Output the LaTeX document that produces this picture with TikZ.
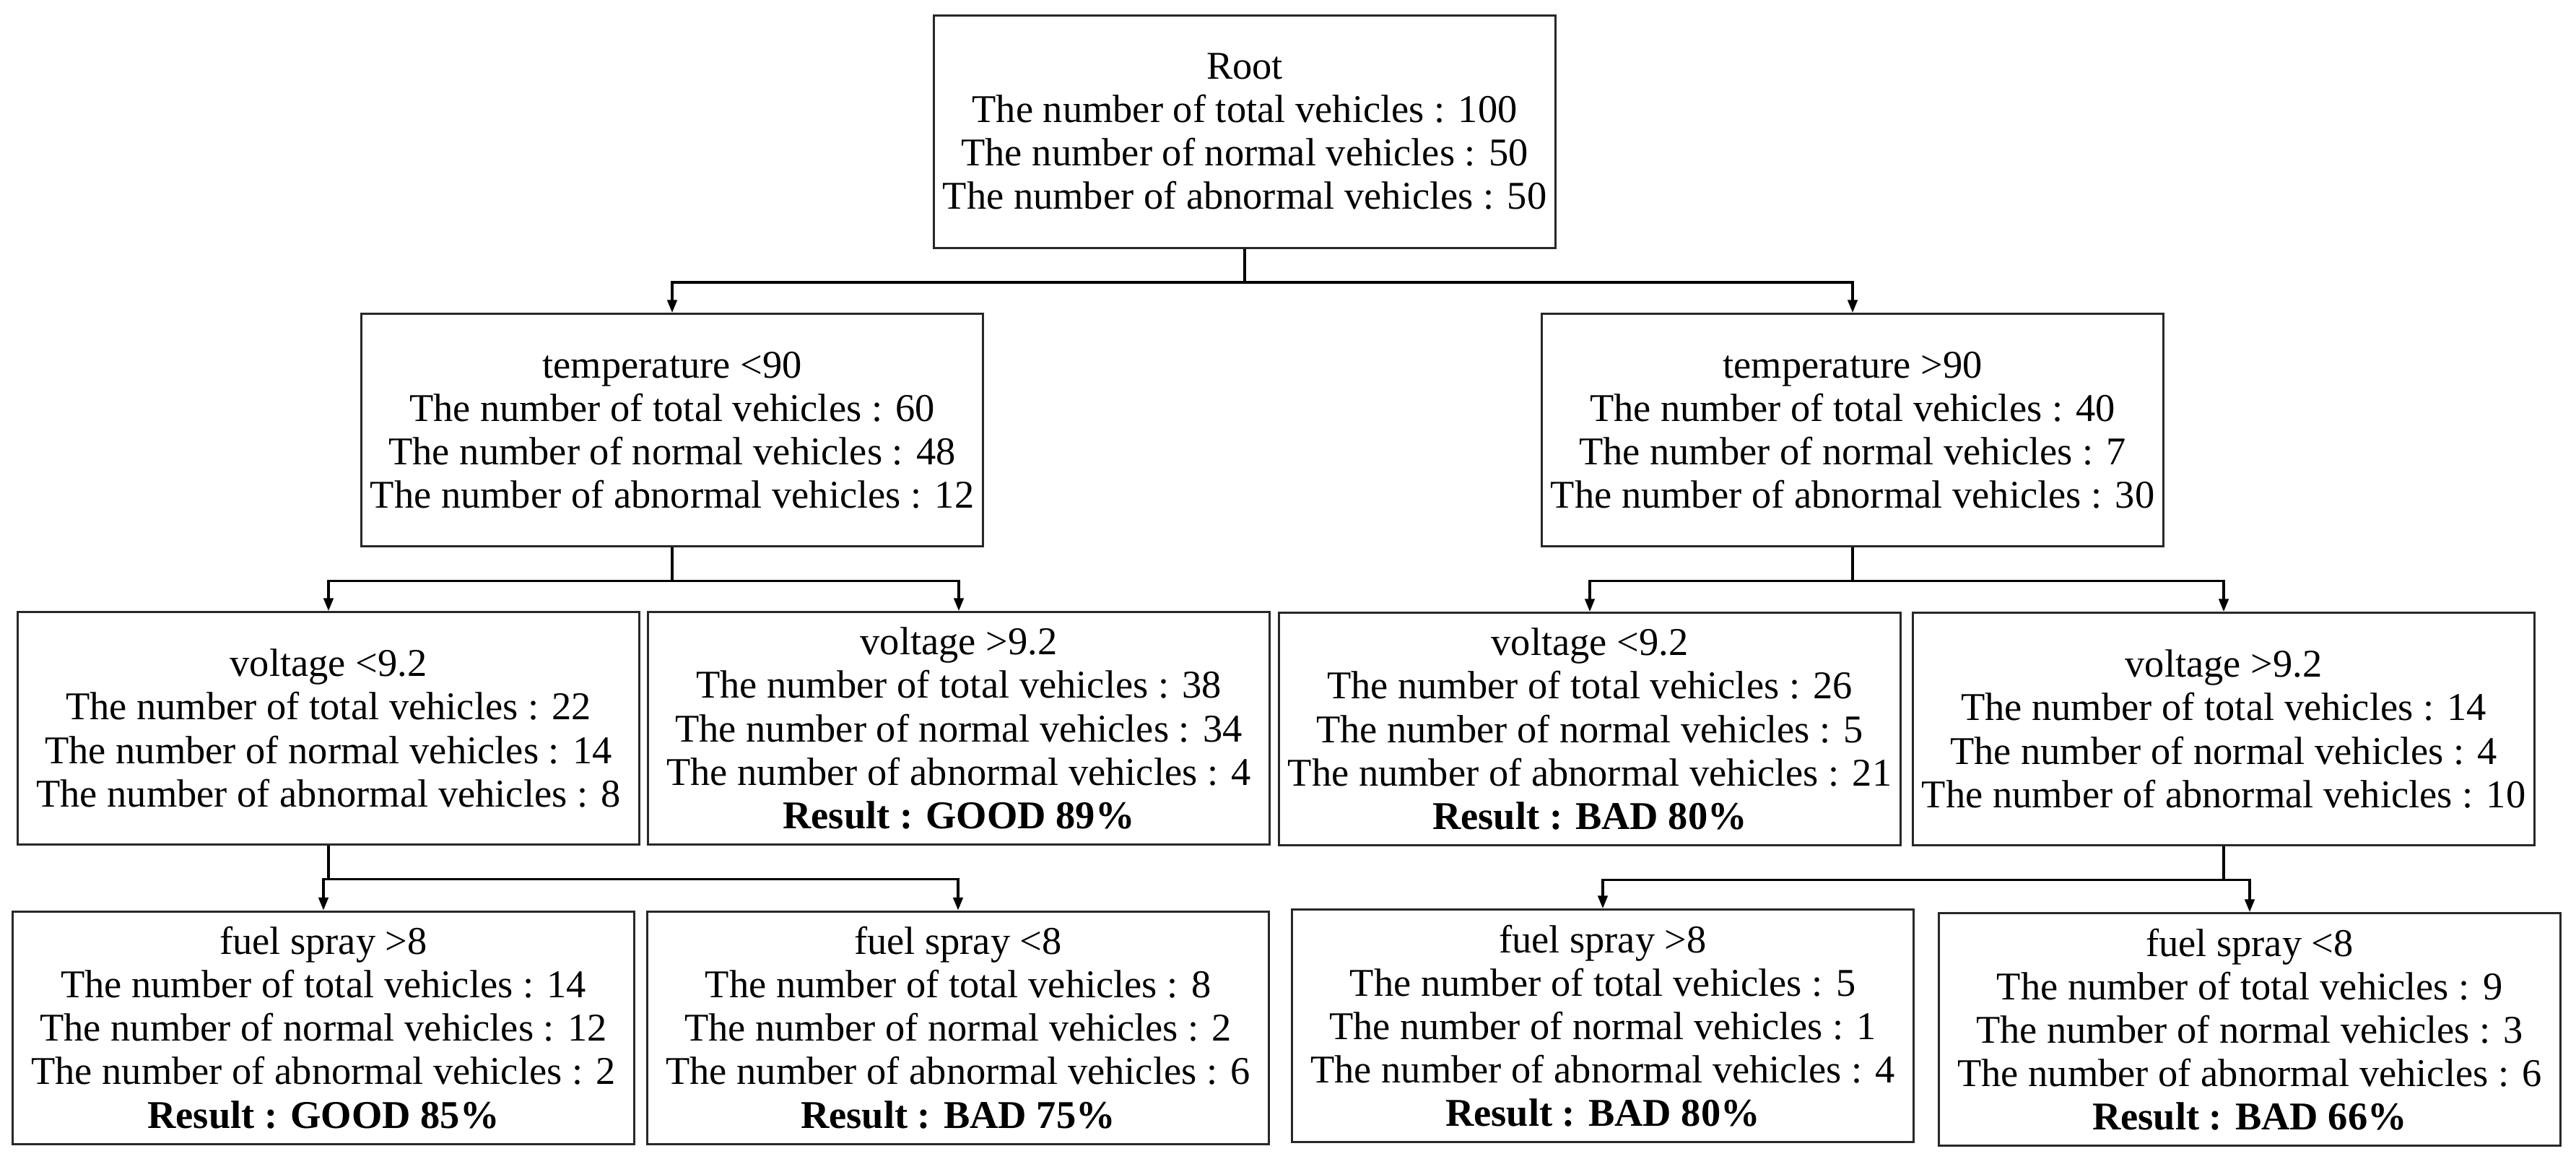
\documentclass[tikz,border=0pt]{standalone}
\usepackage{fontspec}
\setmainfont{LiberationSerif}[
  Extension=.ttf,
  UprightFont=*-Regular,
  BoldFont=*-Bold,
  ItalicFont=*-Italic,
  BoldItalicFont=*-BoldItalic
]
\usepackage{xcolor}
\definecolor{BoxBorder}{RGB}{40,40,40}
\definecolor{EdgeColor}{RGB}{0,0,0}
\usepackage{tikz}
\usetikzlibrary{
  positioning,
  arrows.meta
}
\newcommand{\vehcounts}[3]{The number of total vehicles : #1\\The number of normal vehicles : #2\\The number of abnormal vehicles : #3}
\newcommand{\resline}[1]{\textbf{Result : #1}}
\tikzset{
  % Decision box
  tbox/.style={
    rectangle,
    draw=BoxBorder,
    line width=0.85pt,
    minimum width=8.61cm,
    minimum height=3.22cm,
    inner sep=0pt,
    align=center,
    font=\rmfamily\fontsize{15.5}{17.1}\selectfont
  },
  % Directed elbow edge
  dedge/.style={
    draw=EdgeColor,
    line width=0.9pt,
    -{Triangle[length=5pt,width=3.8pt]}
  }
}

\begin{document}
\begin{tikzpicture}
  \useasboundingbox (0,0) rectangle (35.68,-16.04);
  % root
  \node[tbox] (root) at (17.24,-1.82) {Root\\\vehcounts{100}{50}{50}};
  % temperature split
  \node[tbox] (t1) at (9.31,-5.955) {temperature <90\\\vehcounts{60}{48}{12}};
  \node[tbox] (t2) at (25.66,-5.955) {temperature >90\\\vehcounts{40}{7}{30}};
  % voltage split
  \node[tbox] (v1) at (4.55,-10.085) {voltage <9.2\\\vehcounts{22}{14}{8}};
  \node[tbox] (v2) at (13.28,-10.085) {voltage >9.2\\\vehcounts{38}{34}{4}\\\resline{GOOD 89\%}};
  \node[tbox] (v3) at (22.02,-10.095) {voltage <9.2\\\vehcounts{26}{5}{21}\\\resline{BAD 80\%}};
  \node[tbox] (v4) at (30.80,-10.095) {voltage >9.2\\\vehcounts{14}{4}{10}};
  % fuel spray split
  \node[tbox] (f1) at (4.48,-14.23) {fuel spray >8\\\vehcounts{14}{12}{2}\\\resline{GOOD 85\%}};
  \node[tbox] (f2) at (13.27,-14.23) {fuel spray <8\\\vehcounts{8}{2}{6}\\\resline{BAD 75\%}};
  \node[tbox] (f3) at (22.20,-14.205) {fuel spray >8\\\vehcounts{5}{1}{4}\\\resline{BAD 80\%}};
  \node[tbox] (f4) at (31.16,-14.255) {fuel spray <8\\\vehcounts{9}{3}{6}\\\resline{BAD 66\%}};
  \foreach \p/\c in {root/t1, root/t2, t1/v1, t1/v2, t2/v3, t2/v4, v1/f1, v1/f2, v4/f3, v4/f4} {
    \draw[dedge] (\p.south) -- ++(0,-0.465) -| (\c.north);
  }
\end{tikzpicture}
\end{document}
